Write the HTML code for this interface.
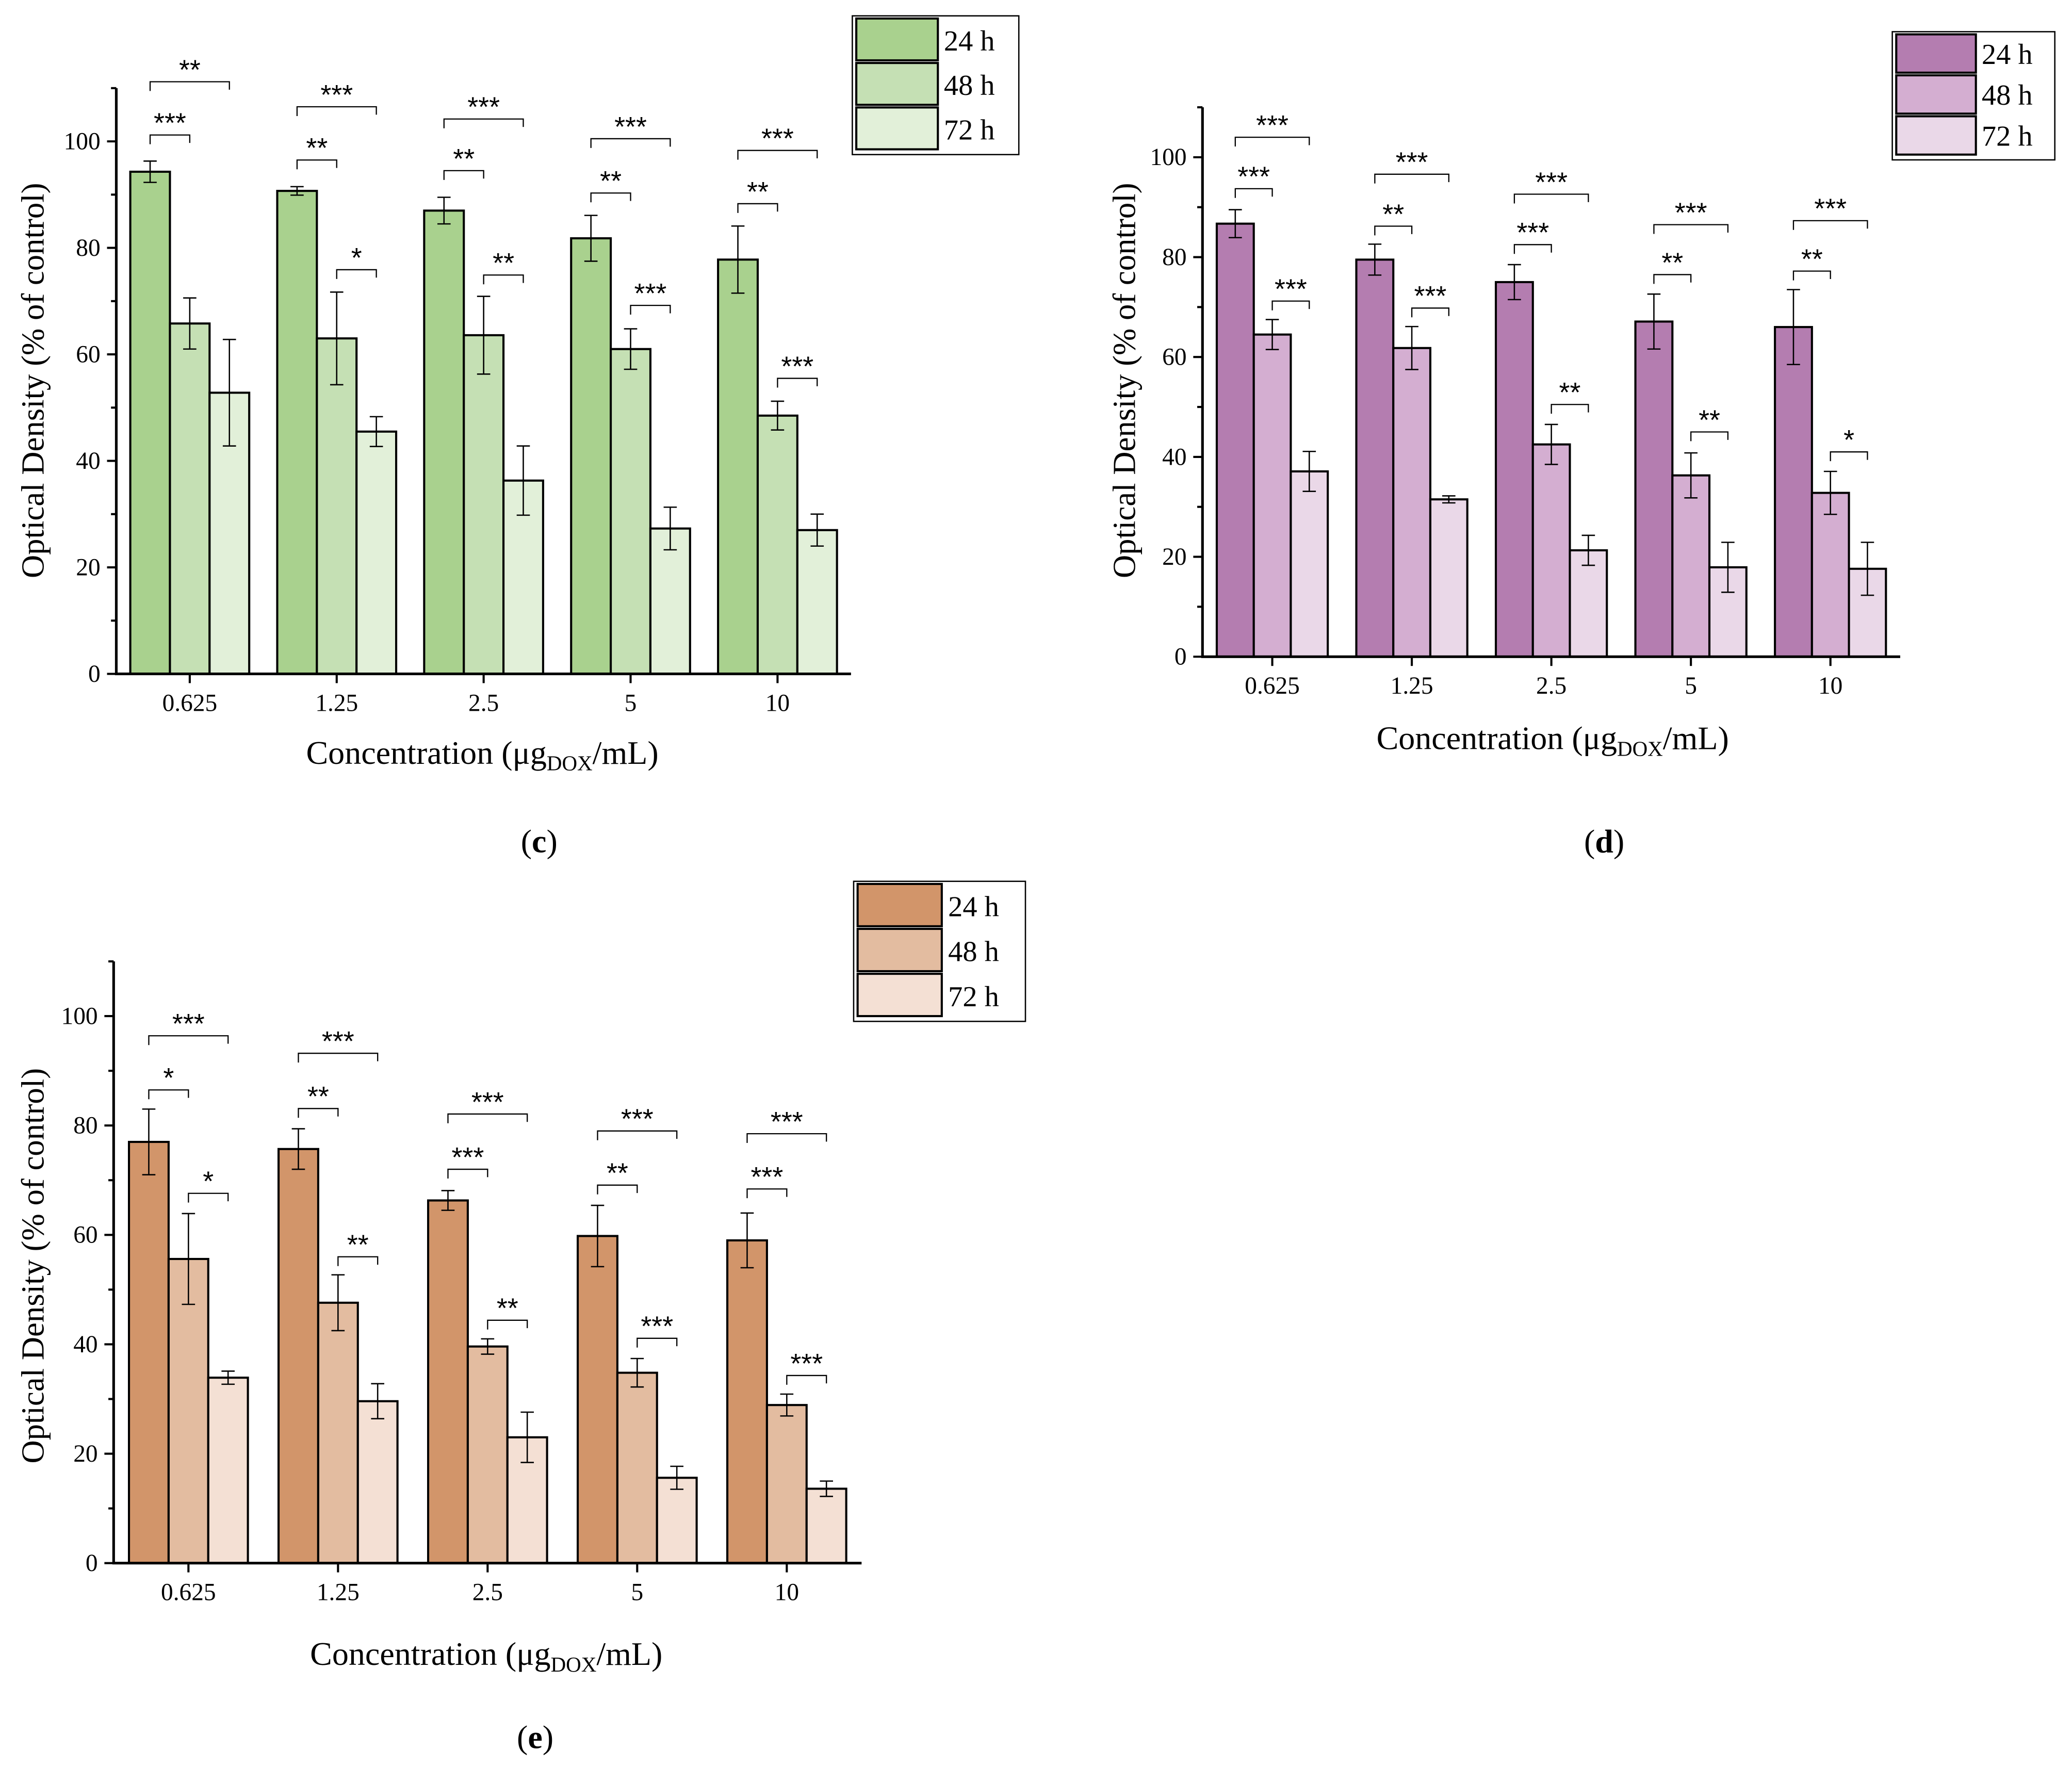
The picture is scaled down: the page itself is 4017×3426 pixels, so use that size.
<!DOCTYPE html>
<html><head><meta charset="utf-8"><style>
html,body{margin:0;padding:0;background:#fff;}
svg{display:block;font-family:"Liberation Serif",serif;}
</style></head><body>
<svg id="fig" width="4017" height="3426" viewBox="0 0 1568 1337.3" preserveAspectRatio="none" xmlns="http://www.w3.org/2000/svg"></svg>
<script>
const categories = ["0.625","1.25","2.5","5","10"];
const seriesNames = ["24 h","48 h","72 h"];
const yTicks = [0,20,40,60,80,100];
// panel c
const c24 = [94.3,90.7,87,81.8,77.8], c24e=[2,0.8,2.5,4.3,6.3];
const c48 = [65.8,63,63.6,61,48.5], c48e=[4.8,8.7,7.3,3.8,2.7];
const c72 = [52.8,45.5,36.3,27.3,27], c72e=[10,2.8,6.5,4,3];
const cSig = [["***","**",""],["**","***","*"],["**","***","**"],["**","***","***"],["**","***","***"]];
const cSigY = [[101.2,111.2,0],[96.5,106.5,75.9],[94.5,104.2,74.9],[90.3,100.5,69.2],[88.3,98.3,55.5]];
// panel d
const d24 = [86.7,79.5,75,67.1,66], d24e=[2.8,3.1,3.5,5.5,7.5];
const d48 = [64.5,61.8,42.5,36.3,32.8], d48e=[3,4.3,4,4.5,4.3];
const d72 = [37.1,31.5,21.3,17.9,17.6], d72e=[4,0.7,3,5,5.3];
const dSig = [["***","***","***"],["**","***","***"],["***","***","**"],["**","***","**"],["**","***","*"]];
const dSigY = [[93.7,104,71.2],[86.2,96.6,69.8],[82.5,92.6,50.5],[76.5,86.5,45],[77.2,87.3,41]];
// panel e
const e24 = [77,75.7,66.3,59.8,59], e24e=[6,3.7,1.8,5.6,5];
const e48 = [55.6,47.6,39.6,34.8,28.9], e48e=[8.3,5.1,1.4,2.6,2];
const e72 = [33.9,29.6,23,15.6,13.6], e72e=[1.2,3.2,4.6,2.1,1.4];
const eSig = [["*","***","*"],["**","***","**"],["***","***","**"],["**","***","***"],["***","***","***"]];
const eSigY = [[86.5,96.4,67.6],[83.1,93.2,56],[72,82.1,44.4],[69.1,79,41.1],[68.4,78.5,34.3]];

const NS="http://www.w3.org/2000/svg";
const svg=document.getElementById('fig');
function mk(tag,attrs,parent,text){const e=document.createElementNS(NS,tag);for(const k in attrs)e.setAttribute(k,attrs[k]);if(text!==undefined)e.textContent=text;(parent||svg).appendChild(e);return e;}

function panel(p){
  const g=mk('g',{});
  
  
  const yS=v=>p.y0-(v/100)*(p.y0-p.y100);
  const yTop=yS(110);
  const step=(p.xR-p.xL)/categories.length;
  const cx=i=>p.xL+step*(i+0.5);
  const vals=[p.s24,p.s48,p.s72], errs=[p.e24,p.e48,p.e72];
  for(let s=0;s<3;s++){for(let i=0;i<categories.length;i++){
    const x=cx(i)+(s-1.5)*p.bw; const y=yS(vals[s][i]);
    const r=mk('rect',{x:x,y:y,width:p.bw,height:p.y0-y,fill:p.colors[s],stroke:'#000','stroke-width':1.6},g);
    
    
    const mx=x+p.bw/2, t=yS(vals[s][i]+errs[s][i]), b=yS(vals[s][i]-errs[s][i]);
    const eb=mk('path',{d:`M${mx},${t}V${b}M${mx-5},${t}H${mx+5}M${mx-5},${b}H${mx+5}`,stroke:'#000','stroke-width':1,fill:'none'},g);
    
    
  }}
  const pairs=[[0,1],[0,2],[1,2]];
  for(let i=0;i<categories.length;i++){for(let k=0;k<3;k++){
    const lab=p.sig[i][k]; if(!lab)continue;
    const a=cx(i)+(pairs[k][0]-1)*p.bw, b=cx(i)+(pairs[k][1]-1)*p.bw, y=yS(p.sigY[i][k]);
    const br=mk('path',{d:`M${a},${y+7}V${y}H${b}V${y+6}`,stroke:'#000','stroke-width':0.9,fill:'none'},g);
    
    
    const tx=mk('text',{x:(a+b)/2,y:y-2,'text-anchor':'middle','font-size':21,'font-family':'Liberation Sans, sans-serif'},g,lab);
    
    
  }}
  const ax=mk('path',{d:`M${p.xL},${yTop}V${p.y0}H${p.xR}`,stroke:'#000','stroke-width':2,fill:'none'},g);
  
  
  for(let v=0;v<=110;v+=10){const y=yS(v);const major=yTicks.includes(v);
    mk('line',{x1:p.xL-(major?7:4),x2:p.xL,y1:y,y2:y,stroke:'#000','stroke-width':1.6},g);}
  yTicks.forEach(v=>{const t=mk('text',{x:p.xL-12,y:yS(v)+6,'text-anchor':'end','font-size':18.5},g,String(v));
    
    });
  categories.forEach((c,i)=>{mk('line',{x1:cx(i),x2:cx(i),y1:p.y0,y2:p.y0+7,stroke:'#000','stroke-width':1.6},g);
    const t=mk('text',{x:cx(i),y:p.y0+28,'text-anchor':'middle','font-size':18.5},g,c);
    
    });
  const yt=mk('text',{x:0,y:0,transform:`translate(${p.ylx},${p.yly}) rotate(-90)`,'text-anchor':'middle','font-size':24.5},g,'Optical Density (% of control)');
  
  
  const xt=mk('text',{x:p.xlx,y:p.xly,'text-anchor':'middle','font-size':25},g);
  
  
  mk('tspan',{},xt,'Concentration (μg');
  mk('tspan',{dy:5,'font-size':16},xt,'DOX');
  mk('tspan',{dy:-5},xt,'/mL)');
  const pl=mk('text',{x:p.plx,y:p.ply,'text-anchor':'middle','font-size':25},g);
  
  
  mk('tspan',{},pl,'(');mk('tspan',{'font-weight':'bold'},pl,p.id);mk('tspan',{},pl,')');
  const lg=mk('g',{},g);
  
  
  const [lx,ly,lw,lh]=p.leg;
  mk('rect',{x:lx,y:ly,width:lw,height:lh,fill:'#fff',stroke:'#000','stroke-width':1},lg);
  const rh=(lh-4)/3;
  for(let s=0;s<3;s++){
    const sw=mk('rect',{x:lx+3,y:ly+2+s*rh,width:lw*0.49,height:rh-2,fill:p.colors[s],stroke:'#000','stroke-width':1.6},lg);
    
    
    const t=mk('text',{x:lx+lw*0.55,y:ly+2+s*rh+rh*0.72,'font-size':22},lg,seriesNames[s]);
    
    
  }
}
panel({id:'c',xL:88,xR:644,y0:510,y100:107,bw:30,s24:c24,s48:c48,s72:c72,e24:c24e,e48:c48e,e72:c72e,sig:cSig,sigY:cSigY,
  colors:['#a9d18e','#c5e0b4','#e2f0d9'],ylx:33,yly:288,xlx:365,xly:578,plx:408,ply:645,leg:[645,12,126,105]});
panel({id:'d',xL:910,xR:1438,y0:497,y100:119,bw:28,s24:d24,s48:d48,s72:d72,e24:d24e,e48:d48e,e72:d72e,sig:dSig,sigY:dSigY,
  colors:['#b47db0','#d4aed1','#ead8e8'],ylx:859,yly:288,xlx:1175,xly:567,plx:1214,ply:645,leg:[1432,24,123,97]});
panel({id:'e',xL:86,xR:652,y0:1183,y100:769,bw:30,s24:e24,s48:e48,s72:e72,e24:e24e,e48:e48e,e72:e72e,sig:eSig,sigY:eSigY,
  colors:['#d2956a','#e3bca0','#f4e0d4'],ylx:33,yly:958,xlx:368,xly:1260,plx:405,ply:1323,leg:[646,667,130,106]});
</script>
</body></html>
